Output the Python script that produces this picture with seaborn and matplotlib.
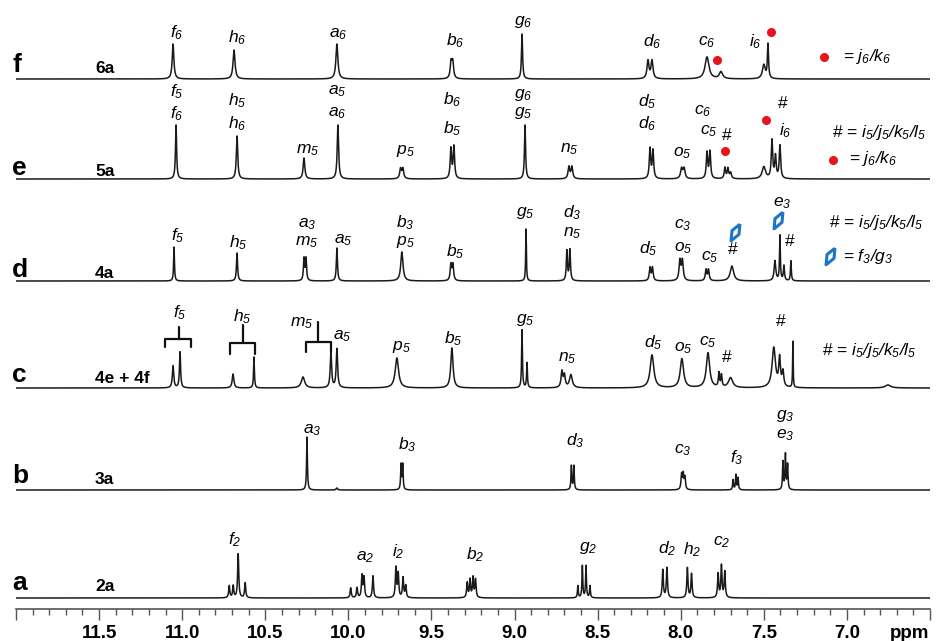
import numpy as np
import pandas as pd
import matplotlib.pyplot as plt
import seaborn as sns
from matplotlib.ticker import MultipleLocator, FixedLocator, FuncFormatter

# peak tables: shift (ppm), height, half width (ppm)
f_shift = [11.055, 10.688, 10.069, 9.382, 9.372, 8.955, 8.197, 8.173, 7.842, 7.758, 7.500, 7.475]
f_height = [35, 29, 35, 16, 16, 45, 18, 18, 22, 7, 14, 34]
f_width = [0.006, 0.007, 0.007, 0.006, 0.006, 0.004, 0.007, 0.007, 0.014, 0.012, 0.010, 0.004]

e_shift = [11.037, 10.670, 10.267, 10.063, 9.686, 9.672, 9.383, 9.365, 8.937, 8.673, 8.655,
           8.185, 8.167, 7.995, 7.980, 7.842, 7.824, 7.734, 7.716, 7.700,
           7.500, 7.451, 7.430, 7.403]
e_height = [54, 43, 21, 54, 10, 10, 30, 32, 54, 12, 12,
            30, 28, 10, 10, 26, 27, 11, 10, 6,
            12, 38, 22, 33]
e_width = [0.004, 0.005, 0.006, 0.005, 0.006, 0.006, 0.005, 0.005, 0.004, 0.006, 0.006,
           0.005, 0.005, 0.007, 0.007, 0.005, 0.005, 0.005, 0.005, 0.006,
           0.012, 0.005, 0.005, 0.005]

d_shift = [11.049, 10.670, 10.267, 10.255, 10.069, 9.678, 9.383, 9.371, 8.931, 8.685, 8.667,
           8.185, 8.170, 8.005, 7.990, 7.848, 7.833, 7.692, 7.433, 7.403, 7.379, 7.337]
d_height = [34, 28, 22, 22, 33, 29, 16, 16, 52, 30, 31,
            13, 13, 20, 20, 11, 11, 15, 20, 45, 15, 20]
d_width = [0.003, 0.004, 0.004, 0.004, 0.004, 0.008, 0.005, 0.005, 0.0025, 0.004, 0.004,
           0.005, 0.005, 0.006, 0.006, 0.005, 0.005, 0.012, 0.006, 0.003, 0.004, 0.003]

c_shift = [11.055, 11.013, 10.694, 10.568, 10.273, 10.105, 10.069, 9.708, 9.377, 8.955, 8.925,
           8.715, 8.700, 8.661, 8.173, 7.993, 7.836, 7.770, 7.755, 7.700,
           7.440, 7.405, 7.385, 7.325, 6.753]
c_height = [22, 36, 14, 31, 11, 35, 39, 30, 40, 58, 25,
            16, 12, 13, 33, 29, 35, 14, 12, 10,
            40, 28, 15, 46, 3]
c_width = [0.005, 0.004, 0.006, 0.003, 0.012, 0.005, 0.005, 0.012, 0.008, 0.003, 0.003,
           0.006, 0.006, 0.010, 0.013, 0.012, 0.012, 0.004, 0.004, 0.015,
           0.012, 0.006, 0.006, 0.002, 0.02]

b_shift = [10.249, 10.069, 9.683, 9.673, 8.658, 8.643, 7.995, 7.985, 7.975,
           7.685, 7.668, 7.655, 7.385, 7.370, 7.357]
b_height = [53, 2, 25, 25, 24, 24, 15, 15, 12, 10, 15, 12, 28, 35, 25]
b_width = [0.003, 0.005, 0.003, 0.003, 0.003, 0.003, 0.004, 0.004, 0.004,
           0.003, 0.003, 0.003, 0.003, 0.003, 0.003]

a_shift = [10.717, 10.693, 10.663, 10.621, 9.986, 9.948, 9.918, 9.906, 9.852,
           9.714, 9.700, 9.671, 9.655, 9.285, 9.268, 9.250, 9.235,
           8.619, 8.592, 8.570, 8.546, 8.108, 8.083, 7.960, 7.935,
           7.775, 7.755, 7.735]
a_height = [12, 12, 44, 15, 10, 10, 22, 20, 22,
            30, 24, 20, 12, 15, 18, 20, 18,
            12, 32, 32, 12, 28, 30, 30, 24,
            24, 32, 26]
a_width = [0.004] * 9 + [0.004] * 8 + [0.003] * 4 + [0.004] * 7

row_letters = ['f', 'e', 'd', 'c', 'b', 'a']
sample_names = ['6a', '5a', '4a', '4e + 4f', '3a', '2a']
tick_values = [12.0, 11.5, 11.0, 10.5, 10.0, 9.5, 9.0, 8.5, 8.0, 7.5, 7.0, 6.5]

# layout: baseline of each trace (axes y units = pixels)
offsets = {'f': 530, 'e': 430, 'd': 328, 'c': 221, 'b': 119, 'a': 11}

grid = np.linspace(12.0, 6.5, 11001)


def lorentz_sum(shift, height, width):
    y = np.zeros_like(grid)
    for s, h, w in zip(shift, height, width):
        y += h / (1 + ((grid - s) / w) ** 2)
    return y


tables = {'f': (f_shift, f_height, f_width), 'e': (e_shift, e_height, e_width),
          'd': (d_shift, d_height, d_width), 'c': (c_shift, c_height, c_width),
          'b': (b_shift, b_height, b_width), 'a': (a_shift, a_height, a_width)}
frames = []
for key, (s, h, w) in tables.items():
    frames.append(pd.DataFrame({'ppm': grid, 'signal': lorentz_sum(s, h, w) + offsets[key],
                                'trace': key}))
df = pd.concat(frames, ignore_index=True)

sns.set_style('white')
plt.rcParams['font.family'] = ['Liberation Sans', 'DejaVu Sans']
plt.rcParams['text.color'] = 'black'
plt.rcParams['xtick.color'] = '#555555'
plt.rcParams['xtick.labelcolor'] = 'black'
plt.rcParams['mathtext.fontset'] = 'custom'
plt.rcParams['mathtext.it'] = 'Liberation Sans:italic'
plt.rcParams['mathtext.rm'] = 'Liberation Sans:italic'
plt.rcParams['mathtext.bf'] = 'Liberation Sans:bold'

fig = plt.figure(figsize=(9.36, 6.41), dpi=100)
ax = fig.add_axes([16 / 936, 32 / 641, 914 / 936, 609 / 641])
sns.lineplot(data=df, x='ppm', y='signal', units='trace', estimator=None, sort=False,
             color='#1a1a1a', lw=1.1, ax=ax)
ax.set_xlim(12.0, 6.5)
ax.set_ylim(0, 609)
ax.set_xlabel('')
ax.set_ylabel('')
ax.set_yticks([])
for side in ['left', 'top', 'right']:
    ax.spines[side].set_visible(False)
ax.spines['bottom'].set_color('#555555')
ax.spines['bottom'].set_linewidth(1.2)
ax.xaxis.set_major_locator(FixedLocator(tick_values))
ax.xaxis.set_minor_locator(MultipleLocator(0.1))
ax.xaxis.set_major_formatter(FuncFormatter(lambda v, p: f'{v:.1f}' if 6.9 < v < 11.6 else ''))
ax.tick_params(axis='x', which='both', bottom=True)
ax.tick_params(axis='x', which='major', direction='out', length=8, width=1,
               pad=3.5, labelsize=13.5)
ax.tick_params(axis='x', which='minor', direction='out', length=4, width=1)
for lab in ax.get_xticklabels():
    lab.set_fontweight('bold')
ax.text(6.621, -25, 'ppm', ha='center', va='center', fontsize=13.5, fontweight='bold')

# row letters and sample names
letter_dy = [7, 4, 4, 6, 7, 8]
for key, name, dy in zip(row_letters, sample_names, letter_dy):
    ax.text(12.024, offsets[key] + dy, key, ha='left', va='baseline', fontsize=19,
            fontweight='bold', clip_on=False)
    ax.text(11.525, offsets[key] + dy - 1, name, ha='left', va='baseline', fontsize=12.5,
            fontweight='bold')

# peak assignments: (text, ppm, height above baseline)
labels = {
    'f': [('f_6', 11.031, 46), ('h_6', 10.670, 41), ('a_6', 10.063, 45), ('b_6', 9.359, 38),
          ('g_6', 8.949, 57), ('d_6', 8.173, 37), ('c_6', 7.842, 37), ('i_6', 7.554, 37)],
    'e': [('f_5', 11.031, 87), ('f_6', 11.031, 65), ('h_5', 10.670, 78), ('h_6', 10.670, 55),
          ('m_5', 10.243, 29), ('a_5', 10.069, 88), ('a_6', 10.069, 66), ('p_5', 9.659, 28),
          ('b_6', 9.377, 79), ('b_5', 9.377, 50), ('g_6', 8.949, 84), ('g_5', 8.949, 66),
          ('n_5', 8.673, 30), ('d_5', 8.200, 77), ('d_6', 8.200, 55), ('o_5', 7.993, 26),
          ('c_6', 7.866, 68), ('c_5', 7.830, 48), ('#', 7.722, 44), ('#', 7.385, 75),
          ('i_6', 7.373, 48)],
    'd': [('f_5', 11.025, 45), ('h_5', 10.664, 38), ('a_3', 10.249, 57), ('m_5', 10.249, 39),
          ('a_5', 10.033, 41), ('b_3', 9.659, 58), ('p_5', 9.659, 39), ('b_5', 9.359, 29),
          ('g_5', 8.937, 68), ('d_3', 8.655, 68), ('n_5', 8.655, 48), ('d_5', 8.197, 32),
          ('c_3', 7.987, 56), ('o_5', 7.987, 33), ('c_5', 7.824, 24), ('#', 7.686, 31),
          ('e_3', 7.391, 78), ('#', 7.343, 40)],
    'c': [('f_5', 11.013, 75), ('h_5', 10.640, 71), ('m_5', 10.279, 65), ('a_5', 10.039, 52),
          ('p_5', 9.678, 41), ('b_5', 9.371, 49), ('g_5', 8.937, 68), ('n_5', 8.685, 30),
          ('d_5', 8.167, 45), ('o_5', 7.987, 40), ('c_5', 7.836, 46), ('#', 7.722, 31),
          ('#', 7.397, 66)],
    'b': [('a_3', 10.219, 60), ('b_3', 9.647, 45), ('d_3', 8.637, 49), ('c_3', 7.987, 40),
          ('f_3', 7.662, 32), ('g_3', 7.373, 74), ('e_3', 7.373, 55)],
    'a': [('f_2', 10.682, 58), ('a_2', 9.900, 41), ('i_2', 9.702, 46), ('b_2', 9.238, 43),
          ('g_2', 8.558, 50), ('d_2', 8.083, 49), ('h_2', 7.933, 48), ('c_2', 7.752, 56)],
}
for key, items in labels.items():
    for txt, x, dy in items:
        s = txt if txt == '#' else f'${txt}$'
        ax.text(x, offsets[key] + dy, s, ha='center', va='center', fontsize=12.5)

# brackets in trace c: (left, right, stem ppm, bar height, leg end, stem top)
brackets = [(11.103, 10.947, 11.019, 49, 41, 61),
            (10.712, 10.562, 10.634, 45, 34, 63),
            (10.255, 10.105, 10.183, 46, 36, 66)]
for l, r, st, bar, leg, top in brackets:
    b0 = offsets['c']
    ax.plot([l, l, r, r], [b0 + leg, b0 + bar, b0 + bar, b0 + leg], color='#111111', lw=1.6,
            solid_joinstyle='round')
    ax.plot([st, st], [b0 + bar, b0 + top], color='#111111', lw=1.6)

# red dots (j6/k6)
dot_x = [7.782, 7.457, 7.138, 7.734, 7.487, 7.084]
dot_y = [offsets['f'] + 19, offsets['f'] + 47, offsets['f'] + 22,
         offsets['e'] + 28, offsets['e'] + 59, offsets['e'] + 19]
ax.plot(dot_x, dot_y, 'o', color='#e8141b', ms=6.5, mec='none')

# blue diamonds (f3/g3)
th = np.deg2rad(28)
base = np.array([[0, 1], [0.42, 0], [0, -1], [-0.42, 0], [0, 1]])
rot = np.array([[np.cos(th), np.sin(th)], [-np.sin(th), np.cos(th)]])
lozenge = base @ rot.T
dia_x = [7.674, 7.415, 7.102]
dia_y = [offsets['d'] + 49, offsets['d'] + 61, offsets['d'] + 25]
ax.plot(dia_x, dia_y, linestyle='none', marker=lozenge, ms=12, mfc='none',
        mec='#1f74c6', mew=2.2)

# key texts
ax.text(7.024, offsets['f'] + 22, '= $j_6/k_6$', ha='left', va='center', fontsize=12.5)
ax.text(7.090, offsets['e'] + 47, '# = $i_5/j_5/k_5/l_5$', ha='left', va='center', fontsize=12.5)
ax.text(6.988, offsets['e'] + 20, '= $j_6/k_6$', ha='left', va='center', fontsize=12.5)
ax.text(7.108, offsets['d'] + 59, '# = $i_5/j_5/k_5/l_5$', ha='left', va='center', fontsize=12.5)
ax.text(7.024, offsets['d'] + 25, '= $f_3/g_3$', ha='left', va='center', fontsize=12.5)
ax.text(7.150, offsets['c'] + 37, '# = $i_5/j_5/k_5/l_5$', ha='left', va='center', fontsize=12.5)

fig.savefig('out.png', dpi=100)
